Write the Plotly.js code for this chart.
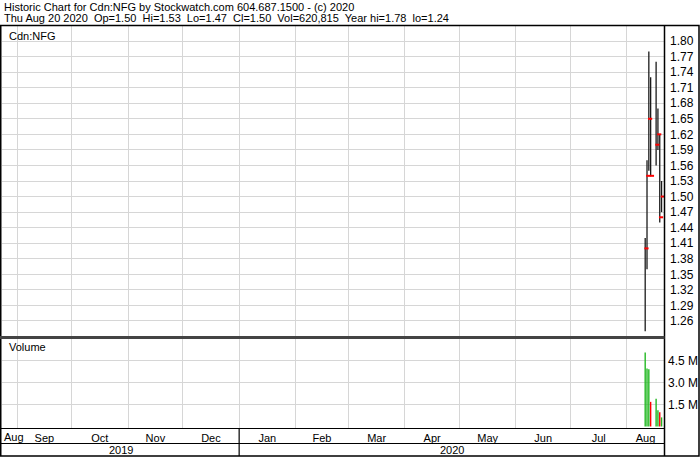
<!DOCTYPE html>
<html><head><meta charset="utf-8">
<script src="https://cdn.plot.ly/plotly-3.0.1.min.js"></script>
<style>html,body{margin:0;padding:0;background:#fff;} #chart{width:700px;height:457px;}</style>
</head><body><div id="chart"></div>
<script>
// ---- data ----
const dates   = ['2020-08-11','2020-08-12','2020-08-13','2020-08-14','2020-08-17','2020-08-18','2020-08-19','2020-08-20'];
const highs   = [1.42, 1.57, 1.78, 1.73, 1.76, 1.67, 1.62, 1.53];
const lows    = [1.24, 1.36, 1.55, 1.54, 1.56, 1.59, 1.45, 1.47];
const closes  = [1.40, 1.54, 1.65, 1.54, 1.60, 1.62, 1.46, 1.50];
const volumes = [5050000, 3950000, 3900000, 1680000, 1900000, 1100000, 980000, 620815];

const priceTicks      = [1.26,1.29,1.32,1.35,1.38,1.41,1.44,1.47,1.50,1.53,1.56,1.59,1.62,1.65,1.68,1.71,1.74,1.77,1.80];
const priceTickLabels = ['1.26','1.29','1.32','1.35','1.38','1.41','1.44','1.47','1.50','1.53','1.56','1.59','1.62','1.65','1.68','1.71','1.74','1.77','1.80'];
const volTicks        = [1500000, 3000000, 4500000];
const volTickLabels   = ['1.5 M','3.0 M','4.5 M'];
const monthStarts = ['2019-08-01','2019-09-01','2019-10-01','2019-11-01','2019-12-01','2020-01-01','2020-02-01','2020-03-01','2020-04-01','2020-05-01','2020-06-01','2020-07-01','2020-08-01','2020-09-01'];
const monthNames  = ['Aug','Sep','Oct','Nov','Dec','Jan','Feb','Mar','Apr','May','Jun','Jul','Aug'];
const yearNames   = ['2019','2020'];
const yearStarts  = ['2019-01-01','2020-01-01','2021-01-01'];
const xRange      = ['2019-08-23 18:00','2020-08-21 08:00'];
const title1 = 'Historic Chart for Cdn:NFG by Stockwatch.com 604.687.1500 - (c) 2020';
const title2 = 'Thu Aug 20 2020  Op=1.50  Hi=1.53  Lo=1.47  Cl=1.50  Vol=620,815  Year hi=1.78  lo=1.24';

// ---- helpers ----
const FONT = 'Liberation Sans, Arial, sans-serif';
const W = 700, H = 457, ML = 2, MR = 36, MT = 26, MB = 29;
const PW = W - ML - MR, PH = H - MT - MB;
const xp = px => (px - ML) / PW;
const yp = py => (H - MB - py) / PH;
const t = s => new Date(s.replace(' ', 'T') + (s.length <= 10 ? 'T00:00:00' : '') + 'Z').getTime();
const iso = ms => new Date(ms).toISOString().slice(0, 19).replace('T', ' ');

// month label positions: middle of the visible part of each month
const monthMids = monthNames.map((m, i) => {
  const a = Math.max(t(monthStarts[i]), t(xRange[0]));
  const b = Math.min(t(monthStarts[i + 1]), t(xRange[1]));
  return iso((a + b) / 2);
});
const axisMonthMids = monthMids.slice(1), axisMonthNames = monthNames.slice(1);

// price bar vertical lines
const lx = [], ly = [];
dates.forEach((d, i) => { lx.push(d, d, null); ly.push(lows[i], highs[i], null); });
const closeX = dates.map(d => iso(t(d) + 17 * 3600 * 1000));

// volume bars as vertical segments, split into up / down days
const isUp = closes.map((c, i) => i === 0 || c >= closes[i - 1]);
function volSegs(up) {
  const x = [], y = [];
  dates.forEach((d, i) => { if (isUp[i] === up) { x.push(d, d, null); y.push(0, volumes[i], null); } });
  return { x, y };
}
const vUp = volSegs(true), vDn = volSegs(false);

const traces = [
  { type: 'scatter', mode: 'lines', x: lx, y: ly, xaxis: 'x', yaxis: 'y',
    line: { color: '#1a1a1a', width: 1.3 }, hoverinfo: 'skip', showlegend: false },
  { type: 'scatter', mode: 'markers', x: closeX, y: closes, xaxis: 'x', yaxis: 'y',
    marker: { symbol: 'line-ew', size: 3, line: { color: '#ff0000', width: 2 } }, showlegend: false },
  { type: 'scatter', mode: 'lines', x: vUp.x, y: vUp.y, xaxis: 'x2', yaxis: 'y2',
    line: { color: '#22b822', width: 1.4 }, showlegend: false },
  { type: 'scatter', mode: 'lines', x: vDn.x, y: vDn.y, xaxis: 'x2', yaxis: 'y2',
    line: { color: '#ff0000', width: 1.4 }, showlegend: false }
];

const gridC = '#d6d6d6';
const priceBottom = 336, volTop = 339;

const yearAnn = yearNames.map((y, i) => {
  const a = Math.max(t(yearStarts[i]), t(xRange[0]));
  const b = Math.min(t(yearStarts[i + 1]), t(xRange[1]));
  return { text: y, xref: 'x', x: iso((a + b) / 2), yref: 'paper', y: yp(450), yanchor: 'middle',
           xanchor: 'center', showarrow: false, font: { family: FONT, size: 11, color: '#000' } };
});

const layout = {
  width: W, height: H, margin: { l: ML, r: MR, t: MT, b: MB, pad: 0 },
  paper_bgcolor: '#fff', plot_bgcolor: '#fff', showlegend: false,
  font: { family: FONT, size: 12, color: '#000' },
  xaxis: { type: 'date', range: xRange, anchor: 'y', domain: [0, 1],
    tickmode: 'array', tickvals: monthStarts, showticklabels: false, ticks: '',
    showgrid: true, gridcolor: gridC, gridwidth: 1, zeroline: false, showline: false, fixedrange: true },
  xaxis2: { type: 'date', range: xRange, anchor: 'y2', domain: [0, 1], matches: 'x',
    tickmode: 'array', tickvals: axisMonthMids, ticktext: axisMonthNames, ticks: '', showgrid: false,
    tickfont: { family: FONT, size: 11, color: '#000' }, ticklabelstandoff: 2,
    minor: { tickmode: 'array', tickvals: monthStarts, showgrid: true, gridcolor: gridC, gridwidth: 1, ticks: '' },
    zeroline: false, showline: false },
  yaxis: { domain: [yp(priceBottom), 1], range: [1.231, 1.829], side: 'right', anchor: 'x',
    tickmode: 'array', tickvals: priceTicks, ticktext: priceTickLabels, ticks: '',
    tickfont: { family: FONT, size: 12, color: '#000' }, ticklabelstandoff: 5,
    showgrid: true, gridcolor: gridC, gridwidth: 1, zeroline: false, showline: false },
  yaxis2: { domain: [0, yp(volTop)], range: [-102000, 5966000], side: 'right', anchor: 'x2',
    tickmode: 'array', tickvals: volTicks, ticktext: volTickLabels, ticks: '',
    tickfont: { family: FONT, size: 12, color: '#000' }, ticklabelstandoff: 3,
    showgrid: true, gridcolor: gridC, gridwidth: 1, zeroline: false, showline: false },
  shapes: [
    { type: 'rect', xref: 'paper', yref: 'paper', x0: xp(0.75), x1: xp(699), y0: yp(456), y1: yp(25.5),
      line: { color: '#000', width: 1.5 }, fillcolor: 'rgba(0,0,0,0)' },
    { type: 'line', xref: 'paper', yref: 'paper', x0: xp(664.5), x1: xp(664.5), y0: yp(456), y1: yp(25.5),
      line: { color: '#000', width: 1.5 } },
    { type: 'line', xref: 'paper', yref: 'paper', x0: xp(0), x1: xp(664.5), y0: yp(337.5), y1: yp(337.5),
      line: { color: '#444', width: 3 } },
    { type: 'line', xref: 'paper', yref: 'paper', x0: xp(0), x1: xp(664.5), y0: yp(428.5), y1: yp(428.5),
      line: { color: '#000', width: 1.2 } },
    { type: 'line', xref: 'paper', yref: 'paper', x0: xp(0), x1: xp(664.5), y0: yp(443.5), y1: yp(443.5),
      line: { color: '#000', width: 1.2 } },
    { type: 'line', xref: 'x', yref: 'paper', x0: yearStarts[1], x1: yearStarts[1], y0: yp(456), y1: yp(428.5),
      line: { color: '#000', width: 1.2 } }
  ],
  annotations: [
    { text: title1, xref: 'paper', yref: 'paper', x: xp(2), y: yp(6.5), xanchor: 'left', yanchor: 'middle',
      showarrow: false, font: { family: FONT, size: 11, color: '#000' } },
    { text: title2, xref: 'paper', yref: 'paper', x: xp(2), y: yp(18), xanchor: 'left', yanchor: 'middle',
      showarrow: false, font: { family: FONT, size: 11, color: '#000' } },
    { text: 'Cdn:NFG', xref: 'paper', yref: 'paper', x: xp(7), y: yp(36), xanchor: 'left', yanchor: 'middle',
      showarrow: false, font: { family: FONT, size: 11, color: '#000' } },
    { text: 'Volume', xref: 'paper', yref: 'paper', x: xp(7), y: yp(347), xanchor: 'left', yanchor: 'middle',
      showarrow: false, font: { family: FONT, size: 11, color: '#000' } },
    { text: monthNames[0], xref: 'paper', yref: 'paper', x: xp(1.5), y: yp(437), xanchor: 'left', yanchor: 'middle',
      showarrow: false, font: { family: FONT, size: 11, color: '#000' } }
  ].concat(yearAnn)
};

Plotly.newPlot('chart', traces, layout, { staticPlot: true, displayModeBar: false });
</script>
</body></html>
